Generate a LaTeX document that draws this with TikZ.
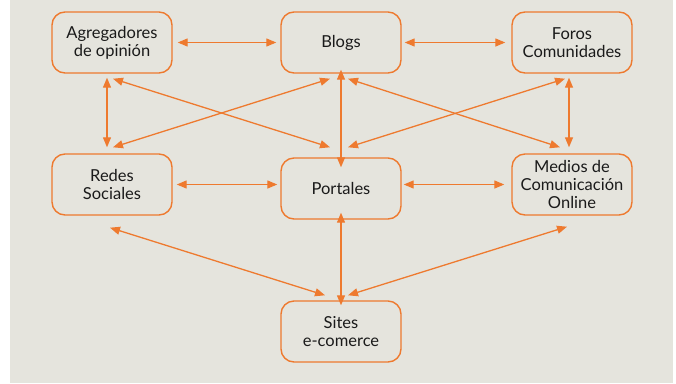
\documentclass[tikz,border=0pt]{standalone}
\usepackage{fontspec}
\setmainfont{Lato}
\usetikzlibrary{arrows.meta}
\definecolor{bgc}{HTML}{E5E4DD}
\definecolor{org}{HTML}{EE7A2F}
\definecolor{txt}{HTML}{1A1A1A}
\begin{document}
\begin{tikzpicture}[x=1pt,y=-1pt,
  box/.style={draw=org, line width=1.4pt, rounded corners=13pt, minimum width=120pt, minimum height=61pt,
    align=center, font=\fontsize{16.5}{18}\selectfont, text=txt, inner sep=0pt},
  link/.style={draw=org, line width=1.3pt, {Triangle[length=10pt,width=8pt]}-{Triangle[length=10pt,width=8pt]}}]
\useasboundingbox (0,0) rectangle (676,383);
\fill[white] (0,0) rectangle (676,383);
\fill[bgc] (10,0) rectangle (673,383);
\node[box] (agr) at (112,42.5) {Agregadores\\de opinión};
\node[box] (blogs) at (341,42.5) {Blogs};
\node[box] (foros) at (572,42.5) {Foros\\Comunidades};
\node[box] (redes) at (112,184.5) {Redes\\Sociales};
\node[box] (port) at (341,188.5) {Portales};
\node[box] (medios) at (572,184.5) {Medios de\\Comunicación\\Online};
\node[box] (sites) at (341,331.5) {Sites\\e-comerce};
% horizontal
\draw[link] ([xshift=5pt]agr.east) -- ([xshift=-4pt]blogs.west);
\draw[link] ([xshift=3pt]blogs.east) -- ([xshift=-6pt]foros.west);
\draw[link] ([xshift=4pt]redes.east) -- ([xshift=-3pt]redes.east -| port.west);
\draw[link] ([xshift=2pt]medios.west -| port.east) -- ([xshift=-7pt]medios.west);
% vertical
\draw[link] ([shift={(-5,4)}]agr.south) -- ([shift={(-5,-6)}]redes.north);
\draw[link] ([yshift=4pt]blogs.south) -- ([yshift=-10pt]port.north);
\draw[link] ([shift={(-3,4)}]foros.south) -- ([shift={(-3,-6)}]medios.north);
\draw[link] ([yshift=7pt]port.south) -- ([yshift=-5pt]sites.north);
% diagonals
\draw[link] ([shift={(1,5)}]agr.south) -- ([shift={(-11,-10)}]port.north);
\draw[link] ([shift={(-11,5)}]blogs.south) -- ([shift={(1,-6)}]redes.north);
\draw[link] ([shift={(7,5)}]blogs.south) -- ([shift={(-12,-6)}]medios.north);
\draw[link] ([shift={(-7,5)}]foros.south) -- ([shift={(7,-10)}]port.north);
\draw[link] ([shift={(-2,12)}]redes.south) -- ([shift={(-16,-5)}]sites.north);
\draw[link] ([shift={(-5,11)}]medios.south) -- ([shift={(7,-5)}]sites.north);
\end{tikzpicture}
\end{document}
